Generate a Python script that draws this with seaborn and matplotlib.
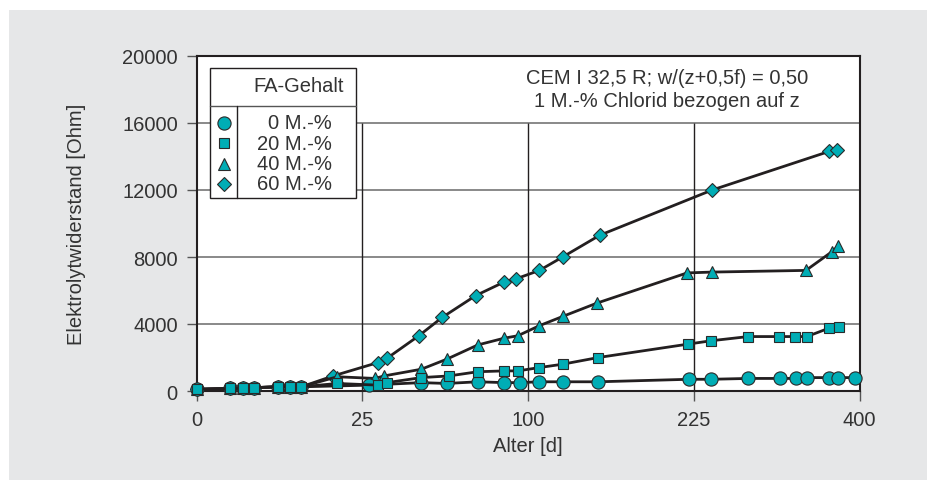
import numpy as np
import pandas as pd
import matplotlib
matplotlib.use("Agg")
import matplotlib.pyplot as plt
from matplotlib.lines import Line2D
from matplotlib.patches import Rectangle
import seaborn as sns

# ---------------- data ----------------
age_0 = [0, 1, 2, 3, 6, 8, 10, 27, 46, 57, 72, 86, 95, 107, 122, 147, 221, 241, 277, 310, 327, 339, 364, 375, 394]
ohm_0 = [100, 150, 150, 200, 250, 250, 250, 350, 500, 450, 550, 500, 500, 550, 550, 550, 700, 700, 750, 750, 750, 800, 800, 800, 800]

age_20 = [0, 1, 2, 3, 6, 8, 10, 18, 30, 33, 46, 58, 72, 86, 94, 107, 122, 147, 220, 241, 277, 309, 326, 339, 364, 376]
ohm_20 = [100, 150, 150, 200, 250, 250, 250, 450, 350, 500, 800, 900, 1150, 1200, 1200, 1400, 1600, 2000, 2800, 3000, 3250, 3250, 3250, 3250, 3750, 3800]

age_40 = [0, 1, 2, 3, 6, 8, 10, 18, 29, 32, 46, 57, 72, 86, 94, 107, 122, 146, 219, 242, 338, 367, 375]
ohm_40 = [100, 150, 150, 200, 250, 250, 250, 850, 750, 900, 1300, 1900, 2750, 3150, 3300, 3900, 4450, 5250, 7050, 7100, 7200, 8300, 8650]

age_60 = [0, 1, 2, 3, 6, 8, 10, 17, 30, 33, 45, 55, 71, 86, 93, 107, 122, 148, 242, 364, 373]
ohm_60 = [100, 150, 150, 200, 250, 250, 250, 900, 1700, 1950, 3300, 4400, 5700, 6500, 6700, 7200, 8000, 9300, 12000, 14300, 14400]

legend_labels = ["0 M.-%", "20 M.-%", "40 M.-%", "60 M.-%"]
x_ticks = [0, 25, 100, 225, 400]
y_ticks = [0, 4000, 8000, 12000, 16000, 20000]

# ---------------- style ----------------
sns.set_theme(style="white")
plt.rcParams["font.family"] = ["Liberation Sans", "DejaVu Sans"]
FS = 14.5
DARK = "#231f20"
TEAL = "#00adb5"
GREY_BG = "#e6e7e8"
TXT = "#333333"

W, H = 927, 481
fig = plt.figure(figsize=(W / 100, H / 100), dpi=100, facecolor="white")
fig.patches.append(Rectangle((9 / W, 0), 1 - 9 / W, 1 - 11 / H, transform=fig.transFigure,
                             facecolor=GREY_BG, edgecolor="none", zorder=-10))

def fx(px):
    return px / W

def fy(py):
    return 1 - py / H

left, right, top, bottom = 196.5, 859.5, 57.0, 392.0
ax = fig.add_axes([fx(left), fy(bottom), (right - left) / W, (bottom - top) / H])
ax.set_facecolor("white")

series = [
    (age_60, ohm_60, "D", 7.2),
    (age_40, ohm_40, "^", 9.0),
    (age_0, ohm_0, "o", 9.5),
    (age_20, ohm_20, "s", 7.8),
]
for i, (a, o, m, ms) in enumerate(series):
    df = pd.DataFrame({"age": a, "ohm": o})
    sns.lineplot(data=df, x="age", y="ohm", ax=ax, color=DARK, lw=2.0, marker=m,
                 markersize=ms, markerfacecolor=TEAL, markeredgecolor="#2a2a2a",
                 markeredgewidth=0.8, clip_on=False, zorder=5 + i)

ax.set_xscale("function", functions=(lambda v: np.sqrt(np.clip(v, 0, None)), np.square))
ax.set_xlim(0, 400)
ax.set_ylim(0, 20000)
ax.set_xticks(x_ticks)
ax.set_xticklabels([str(t) for t in x_ticks])
ax.set_yticks(y_ticks)
ax.set_yticklabels([str(t) for t in y_ticks])
ax.xaxis.set_minor_locator(matplotlib.ticker.NullLocator())

# grid
for yv in [4000, 8000, 12000, 16000]:
    ax.axhline(yv, color="#808080", lw=1.3, zorder=1)
ax.vlines([25, 100, 225], 0, 16000, color=DARK, lw=1.0, zorder=1)

for s in ax.spines.values():
    s.set_visible(True)
    s.set_color(DARK)
    s.set_linewidth(1.5)
ax.tick_params(axis="both", direction="out", length=7.5, width=1.0, color="#555555",
               labelsize=FS, labelcolor=TXT, pad=6, bottom=True, left=True)

ax.set_xlabel("Alter [d]", fontsize=FS, color=TXT)
ax.set_ylabel("Elektrolytwiderstand [Ohm]", fontsize=FS, color=TXT)
ax.xaxis.label.set_va("center")
ax.yaxis.label.set_va("center")
ax.xaxis.set_label_coords(0.5, (bottom - 447) / (bottom - top))
ax.yaxis.set_label_coords((77 - left) / (right - left), 0.5)

# annotation
ax.text((667 - left) / (right - left), (bottom - 79) / (bottom - top),
        "CEM I 32,5 R; w/(z+0,5f) = 0,50", transform=ax.transAxes,
        ha="center", va="center", fontsize=FS, color=TXT)
ax.text((667 - left) / (right - left), (bottom - 102) / (bottom - top),
        "1 M.-% Chlorid bezogen auf z", transform=ax.transAxes,
        ha="center", va="center", fontsize=FS, color=TXT)

# custom legend box
lx0, lx1, ly0, ly1 = 210, 356, 69, 199
fig.patches.append(Rectangle((fx(lx0), fy(ly1)), (lx1 - lx0) / W, (ly1 - ly0) / H,
                             transform=fig.transFigure, facecolor="white",
                             edgecolor=DARK, lw=1.0, zorder=20))
fig.lines.append(Line2D([fx(lx0), fx(lx1)], [fy(106.7), fy(106.7)], transform=fig.transFigure,
                        color="#555555", lw=1.0, zorder=21))
fig.lines.append(Line2D([fx(237.3), fx(237.3)], [fy(106.7), fy(ly1)], transform=fig.transFigure,
                        color=DARK, lw=1.0, zorder=21))
fig.text(fx(299), fy(87), "FA-Gehalt", ha="center", va="center", fontsize=FS, color=TXT, zorder=22)
leg_markers = [("o", 9.5), ("s", 7.8), ("^", 9.0), ("D", 7.2)]
row_y = [123.5, 144, 164.5, 185]
for (m, ms), lab, yy in zip(leg_markers, legend_labels, row_y):
    fig.lines.append(Line2D([fx(224)], [fy(yy)], transform=fig.transFigure, marker=m,
                            markersize=ms, markerfacecolor=TEAL, markeredgecolor="#2a2a2a",
                            markeredgewidth=0.8, linestyle="none", zorder=22))
    fig.text(fx(332), fy(yy), lab, ha="right", va="center", fontsize=FS, color=TXT, zorder=22)

fig.savefig("out.png", dpi=100, facecolor=fig.get_facecolor())
